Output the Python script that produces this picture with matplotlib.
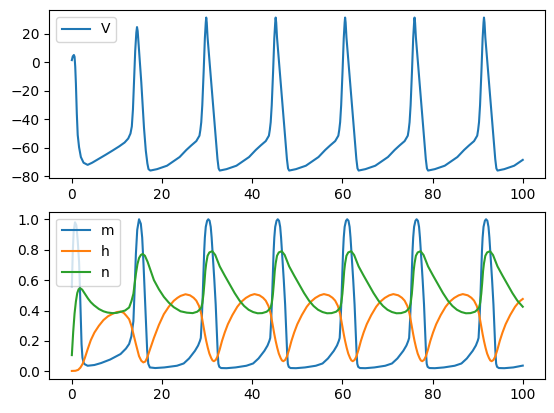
import matplotlib
matplotlib.use("Agg")
import matplotlib.pyplot as plt

# membrane potential V (mV)
t_v = [
    0.0, 0.2, 0.45, 0.6, 0.75, 0.9, 1.1, 1.3, 1.6, 2.0, 2.6, 3.5, 4.5, 6.0, 7.5, 9.0, 10.5,
    11.7, 12.5, 13.0, 13.3, 13.55, 13.8, 14.05, 14.3, 14.45, 14.6, 14.8, 15.4, 16.0, 16.4,
    16.75, 17.0, 17.4,
    18.9, 21.1, 23.9, 25.4, 26.5, 27.6, 28.3, 28.5, 28.7, 28.93, 29.23, 29.5, 29.7, 29.8,
    29.92, 30.1, 30.7, 31.3, 31.9, 32.3, 32.55, 32.8,
    34.3, 36.5, 39.3, 40.8, 41.9, 43.0, 43.7, 43.9, 44.1, 44.33, 44.63, 44.9, 45.1, 45.2,
    45.32, 45.5, 46.1, 46.7, 47.3, 47.7, 47.95, 48.2,
    49.7, 51.9, 54.7, 56.2, 57.3, 58.4, 59.1, 59.3, 59.5, 59.73, 60.03, 60.3, 60.5, 60.6,
    60.72, 60.9, 61.5, 62.1, 62.7, 63.1, 63.35, 63.6,
    65.1, 67.3, 70.1, 71.6, 72.7, 73.8, 74.5, 74.7, 74.9, 75.13, 75.43, 75.7, 75.9, 76.0,
    76.12, 76.3, 76.9, 77.5, 78.1, 78.5, 78.75, 79.0,
    80.5, 82.7, 85.5, 87.0, 88.1, 89.2, 89.9, 90.1, 90.3, 90.53, 90.83, 91.1, 91.3, 91.4,
    91.52, 91.7, 92.3, 92.9, 93.5, 93.9, 94.15, 94.4,
    95.9, 98.1, 100.0,
]
v = [
    1.6, 4.2, 5.2, 4.0, -3, -15, -36, -51, -59.6, -66.5, -70.5, -72.0, -70.5, -67.7, -64.9, -62.0, -59.0,
    -56.3, -53.5, -50.0, -45, -33, -12, 8, 21, 24.8, 22, 13, -14, -46, -62,
    -71, -75, -76,
    -75, -72.6, -66.5, -61.5, -58.3, -55.3, -51.5, -47.5, -42, -30, -6.6, 17, 28, 31.5,
    28, 17.5, -6, -30, -53, -68, -74.5, -76,
    -75, -72.6, -66.5, -61.5, -58.3, -55.3, -51.5, -47.5, -42, -30, -6.6, 17, 28, 31.5,
    28, 17.5, -6, -30, -53, -68, -74.5, -76,
    -75, -72.6, -66.5, -61.5, -58.3, -55.3, -51.5, -47.5, -42, -30, -6.6, 17, 28, 31.5,
    28, 17.5, -6, -30, -53, -68, -74.5, -76,
    -75, -72.6, -66.5, -61.5, -58.3, -55.3, -51.5, -47.5, -42, -30, -6.6, 17, 28, 31.5,
    28, 17.5, -6, -30, -53, -68, -74.5, -76,
    -75, -72.6, -66.5, -61.5, -58.3, -55.3, -51.5, -47.5, -42, -30, -6.6, 17, 28, 31.5,
    28, 17.5, -6, -30, -53, -68, -74.5, -76,
    -75, -72.6, -68.5,
]

# gating variable m
t_m = [
    0.0, 0.2, 0.4, 0.7, 1.0, 1.3, 1.6, 1.8, 2.0, 2.15, 2.35, 2.6, 2.8, 3.5, 5.0, 6.5, 8.5,
    10.8, 12.0, 12.7, 13.2, 13.65, 13.9, 14.2, 14.5, 14.9, 15.3, 15.6, 15.9, 16.15, 16.4,
    16.7, 16.95, 17.3, 18.5, 20.5,
    23.3, 24.8, 26.0, 27.3, 28.0, 28.4, 28.6, 28.8, 29.0, 29.2, 29.35, 29.5, 29.7, 30.0,
    30.26, 30.55, 30.8, 31.0, 31.3, 31.6, 31.9, 32.15, 32.35, 32.5, 32.7, 33.1, 34.3, 36.3,
    38.7, 40.2, 41.4, 42.7, 43.4, 43.8, 44.0, 44.2, 44.4, 44.6, 44.75, 44.9, 45.1, 45.4,
    45.66, 45.95, 46.2, 46.4, 46.7, 47.0, 47.3, 47.55, 47.75, 47.9, 48.1, 48.5, 49.7, 51.7,
    54.1, 55.6, 56.8, 58.1, 58.8, 59.2, 59.4, 59.6, 59.8, 60.0, 60.15, 60.3, 60.5, 60.8,
    61.06, 61.35, 61.6, 61.8, 62.1, 62.4, 62.7, 62.95, 63.15, 63.3, 63.5, 63.9, 65.1, 67.1,
    69.5, 71.0, 72.2, 73.5, 74.2, 74.6, 74.8, 75.0, 75.2, 75.4, 75.55, 75.7, 75.9, 76.2,
    76.46, 76.75, 77.0, 77.2, 77.5, 77.8, 78.1, 78.35, 78.55, 78.7, 78.9, 79.3, 80.5, 82.5,
    84.9, 86.4, 87.6, 88.9, 89.6, 90.0, 90.2, 90.4, 90.6, 90.8, 90.95, 91.1, 91.3, 91.6,
    91.86, 92.15, 92.4, 92.6, 92.9, 93.2, 93.5, 93.75, 93.95, 94.1, 94.3, 94.7, 95.9, 97.9,
    100.0,
]
m = [
    0.56, 0.78, 0.92, 0.98, 0.96, 0.86, 0.72, 0.54, 0.32, 0.18, 0.09, 0.058, 0.048, 0.037, 0.042, 0.055, 0.078,
    0.114, 0.15, 0.18, 0.23, 0.33, 0.52, 0.77, 0.93, 1.0, 0.97, 0.88, 0.7, 0.52, 0.33,
    0.14, 0.05, 0.026, 0.022, 0.026,
    0.037, 0.052, 0.085, 0.135, 0.17, 0.2, 0.22, 0.33, 0.48, 0.66, 0.79, 0.88, 0.95, 0.99,
    1.0, 0.99, 0.95, 0.88, 0.74, 0.6, 0.44, 0.27, 0.12, 0.05, 0.03, 0.022, 0.021, 0.026,
    0.037, 0.052, 0.085, 0.135, 0.17, 0.2, 0.22, 0.33, 0.48, 0.66, 0.79, 0.88, 0.95, 0.99,
    1.0, 0.99, 0.95, 0.88, 0.74, 0.6, 0.44, 0.27, 0.12, 0.05, 0.03, 0.022, 0.021, 0.026,
    0.037, 0.052, 0.085, 0.135, 0.17, 0.2, 0.22, 0.33, 0.48, 0.66, 0.79, 0.88, 0.95, 0.99,
    1.0, 0.99, 0.95, 0.88, 0.74, 0.6, 0.44, 0.27, 0.12, 0.05, 0.03, 0.022, 0.021, 0.026,
    0.037, 0.052, 0.085, 0.135, 0.17, 0.2, 0.22, 0.33, 0.48, 0.66, 0.79, 0.88, 0.95, 0.99,
    1.0, 0.99, 0.95, 0.88, 0.74, 0.6, 0.44, 0.27, 0.12, 0.05, 0.03, 0.022, 0.021, 0.026,
    0.037, 0.052, 0.085, 0.135, 0.17, 0.2, 0.22, 0.33, 0.48, 0.66, 0.79, 0.88, 0.95, 0.99,
    1.0, 0.99, 0.95, 0.88, 0.74, 0.6, 0.44, 0.27, 0.12, 0.05, 0.03, 0.022, 0.021, 0.026,
    0.038,
]

# gating variable h
t_h = [
    0.0, 0.8, 1.4, 1.9, 2.4, 2.9, 3.5, 4.2, 5.0, 6.0, 7.0, 8.0, 9.0, 10.0, 10.8, 11.5, 12.1,
    12.7, 13.2, 13.65, 14.2, 14.9, 15.4, 15.85, 16.3, 16.7, 17.4, 18.2, 19.3, 20.4, 21.5,
    22.6, 23.4, 24.1, 25.2,
    26.2, 27.0, 27.6, 28.2, 28.7, 29.2, 29.5, 29.8, 30.15, 30.5, 30.9, 31.2, 31.5, 31.9,
    32.3, 32.8, 33.3, 33.9, 34.6, 35.6, 36.7, 37.6, 38.6, 39.6, 40.5,
    41.6, 42.4, 43.0, 43.6, 44.1, 44.6, 44.9, 45.2, 45.55, 45.9, 46.3, 46.6, 46.9, 47.3,
    47.7, 48.2, 48.7, 49.3, 50.0, 51.0, 52.1, 53.0, 54.0, 55.0, 55.9,
    57.0, 57.8, 58.4, 59.0, 59.5, 60.0, 60.3, 60.6, 60.95, 61.3, 61.7, 62.0, 62.3, 62.7,
    63.1, 63.6, 64.1, 64.7, 65.4, 66.4, 67.5, 68.4, 69.4, 70.4, 71.3,
    72.4, 73.2, 73.8, 74.4, 74.9, 75.4, 75.7, 76.0, 76.35, 76.7, 77.1, 77.4, 77.7, 78.1,
    78.5, 79.0, 79.5, 80.1, 80.8, 81.8, 82.9, 83.8, 84.8, 85.8, 86.7,
    87.8, 88.6, 89.2, 89.8, 90.3, 90.8, 91.1, 91.4, 91.75, 92.1, 92.5, 92.8, 93.1, 93.5,
    93.9, 94.4, 94.9, 95.5, 96.2, 97.2, 98.3, 99.2, 100.0,
]
h = [
    0.003, 0.004, 0.01, 0.025, 0.05, 0.09, 0.145, 0.205, 0.255, 0.3, 0.337, 0.362, 0.378, 0.39, 0.393, 0.385, 0.365,
    0.343, 0.3, 0.245, 0.18, 0.1, 0.07, 0.059, 0.065, 0.09, 0.15, 0.22, 0.305, 0.376, 0.425,
    0.464, 0.483, 0.496, 0.507,
    0.5, 0.484, 0.465, 0.43, 0.378, 0.295, 0.245, 0.2, 0.155, 0.117, 0.088, 0.072, 0.067, 0.075,
    0.098, 0.145, 0.2, 0.255, 0.31, 0.37, 0.425, 0.458, 0.483, 0.5, 0.508,
    0.5, 0.484, 0.465, 0.43, 0.378, 0.295, 0.245, 0.2, 0.155, 0.117, 0.088, 0.072, 0.067, 0.075,
    0.098, 0.145, 0.2, 0.255, 0.31, 0.37, 0.425, 0.458, 0.483, 0.5, 0.508,
    0.5, 0.484, 0.465, 0.43, 0.378, 0.295, 0.245, 0.2, 0.155, 0.117, 0.088, 0.072, 0.067, 0.075,
    0.098, 0.145, 0.2, 0.255, 0.31, 0.37, 0.425, 0.458, 0.483, 0.5, 0.508,
    0.5, 0.484, 0.465, 0.43, 0.378, 0.295, 0.245, 0.2, 0.155, 0.117, 0.088, 0.072, 0.067, 0.075,
    0.098, 0.145, 0.2, 0.255, 0.31, 0.37, 0.425, 0.458, 0.483, 0.5, 0.508,
    0.5, 0.484, 0.465, 0.43, 0.378, 0.295, 0.245, 0.2, 0.155, 0.117, 0.088, 0.072, 0.067, 0.075,
    0.098, 0.145, 0.2, 0.255, 0.31, 0.37, 0.425, 0.458, 0.476,
]

# gating variable n
t_n = [
    0.0, 0.3, 0.6, 0.9, 1.2, 1.5, 1.85, 2.3, 2.9, 3.6, 4.2, 4.9, 6.0, 7.0, 7.9, 9.0, 10.0,
    10.8, 11.8, 12.7, 13.2, 13.65, 13.95, 14.2, 14.55, 14.9, 15.3, 15.7, 16.2, 16.8, 17.5,
    18.2, 19.3, 20.4, 21.5, 22.6, 24.1, 25.5,
    26.8, 27.8, 28.3, 28.7, 28.95, 29.2, 29.4, 29.6, 29.8, 30.1, 30.5, 31.15, 31.8, 32.8,
    33.9, 35.0, 36.1, 37.2, 38.2, 39.2, 40.2, 41.2,
    42.2, 43.2, 43.7, 44.1, 44.35, 44.6, 44.8, 45.0, 45.2, 45.5, 45.9, 46.55, 47.2, 48.2,
    49.3, 50.4, 51.5, 52.6, 53.6, 54.6, 55.6, 56.6,
    57.6, 58.6, 59.1, 59.5, 59.75, 60.0, 60.2, 60.4, 60.6, 60.9, 61.3, 61.95, 62.6, 63.6,
    64.7, 65.8, 66.9, 68.0, 69.0, 70.0, 71.0, 72.0,
    73.0, 74.0, 74.5, 74.9, 75.15, 75.4, 75.6, 75.8, 76.0, 76.3, 76.7, 77.35, 78.0, 79.0,
    80.1, 81.2, 82.3, 83.4, 84.4, 85.4, 86.4, 87.4,
    88.4, 89.4, 89.9, 90.3, 90.55, 90.8, 91.0, 91.2, 91.4, 91.7, 92.1, 92.75, 93.4, 94.4,
    95.5, 96.6, 97.7, 98.8, 100.0,
]
n = [
    0.107, 0.26, 0.38, 0.46, 0.515, 0.54, 0.547, 0.537, 0.51, 0.478, 0.455, 0.435, 0.41, 0.395, 0.387, 0.383, 0.385,
    0.392, 0.4, 0.42, 0.46, 0.51, 0.58, 0.64, 0.705, 0.745, 0.765, 0.772, 0.76, 0.72, 0.66,
    0.6, 0.54, 0.49, 0.452, 0.422, 0.395, 0.386,
    0.383, 0.392, 0.405, 0.42, 0.45, 0.51, 0.58, 0.66, 0.71, 0.76, 0.782, 0.79, 0.765, 0.69,
    0.63, 0.573, 0.515, 0.465, 0.43, 0.405, 0.39, 0.382,
    0.383, 0.392, 0.405, 0.42, 0.45, 0.51, 0.58, 0.66, 0.71, 0.76, 0.782, 0.79, 0.765, 0.69,
    0.63, 0.573, 0.515, 0.465, 0.43, 0.405, 0.39, 0.382,
    0.383, 0.392, 0.405, 0.42, 0.45, 0.51, 0.58, 0.66, 0.71, 0.76, 0.782, 0.79, 0.765, 0.69,
    0.63, 0.573, 0.515, 0.465, 0.43, 0.405, 0.39, 0.382,
    0.383, 0.392, 0.405, 0.42, 0.45, 0.51, 0.58, 0.66, 0.71, 0.76, 0.782, 0.79, 0.765, 0.69,
    0.63, 0.573, 0.515, 0.465, 0.43, 0.405, 0.39, 0.382,
    0.383, 0.392, 0.405, 0.42, 0.45, 0.51, 0.58, 0.66, 0.71, 0.76, 0.782, 0.79, 0.765, 0.69,
    0.63, 0.573, 0.515, 0.465, 0.425,
]

fig = plt.figure(figsize=(5.54, 4.13), dpi=100)
ax1 = fig.add_axes([0.089, 0.5685, 0.8953, 0.4075])
ax2 = fig.add_axes([0.089, 0.0835, 0.8953, 0.4040])

ax1.plot(t_v, v, label='V')
ax1.legend(loc='upper left')

ax2.plot(t_m, m, label='m')
ax2.plot(t_h, h, label='h')
ax2.plot(t_n, n, label='n')
ax2.legend(loc='upper left')

fig.savefig('out.png', dpi=100)
